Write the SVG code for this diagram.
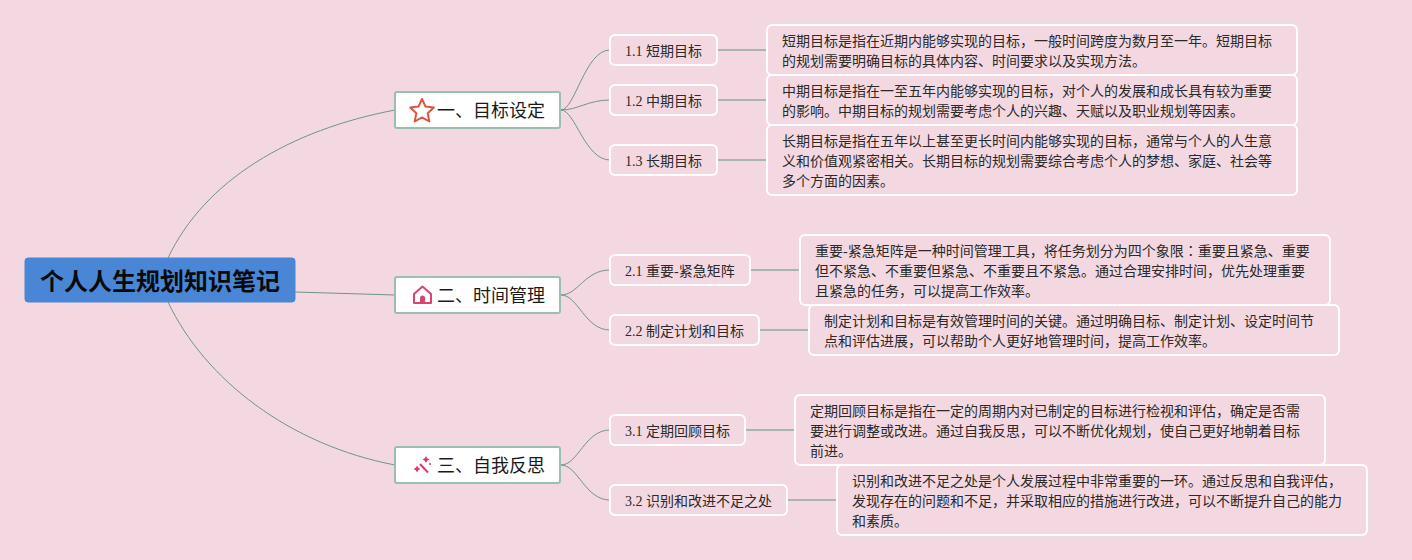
<svg xmlns="http://www.w3.org/2000/svg" width="1412" height="560" viewBox="0 0 1412 560">
<style>
text{font-family:"Liberation Serif","Noto Sans CJK SC",sans-serif;fill:#2a2a2a}
.r{fill:#4a86d6;stroke:#4a86d6;stroke-width:1}
.t{font-size:24px;font-weight:700;fill:#0a0a0a;font-family:"Noto Sans CJK SC",sans-serif}
.b{fill:#fff;stroke:#9dbcb2;stroke-width:2}
.bt{font-size:18px;fill:#1a1a1a}
.s{fill:#f3d8e1;stroke:#fff;stroke-width:2}
.st{font-size:14px}
.d{fill:#f3d8e1;stroke:#fff;stroke-width:2}
.dt{font-size:14px}
.c{fill:none;stroke:#6f9488;stroke-width:1}
.l{fill:none;stroke:#a9b5ae;stroke-width:2}
.tc{font-family:"Noto Sans CJK TC",sans-serif}
</style>
<rect width="1412" height="560" fill="#f3d8e1"/>
<g id="connectors">
<path class="c" d="M168 258C205 180 290 130 395 110"/>
<path class="c" d="M295 292L395 295"/>
<path class="c" d="M168 302C205 380 290 445 395 465"/>
<path class="c" d="M561 110C575 110 585 50 610 50"/>
<path class="c" d="M561 110C578 110 588 100 610 100"/>
<path class="c" d="M561 110C575 110 585 160 610 160"/>
<path class="c" d="M561 295C578 295 585 270 610 270"/>
<path class="c" d="M561 295C578 295 585 330 610 330"/>
<path class="c" d="M561 465C578 465 585 430 610 430"/>
<path class="c" d="M561 465C578 465 585 500 610 500"/>
<path class="l" d="M718 50H767M718 100H767M718 160H767M751 270H800M760 330H809M746 430H795M788 500H837"/>
</g>
<g id="root"><rect class="r" x="25" y="258" width="270" height="44" rx="3"/><text class="t" x="160" y="290" text-anchor="middle">个人人生规划知识笔记</text></g>
<g id="n1"><rect class="b" x="395" y="92" width="165" height="36" rx="2"/>
<path d="M422 99l3.500 7.600 8.300 1-6.100 5.700 1.600 8.200-7.300-4.100-7.300 4.100 1.600-8.200-6.100-5.700 8.300-1z" fill="none" stroke="#e0533f" stroke-width="2" stroke-linejoin="round"/>
<text class="bt" x="437" y="117">一、目标设定</text></g>
<g id="n2"><rect class="b" x="395" y="277" width="165" height="36" rx="2"/>
<path d="M414 294l8.500-7.500 8.500 7.500v9h-17z" fill="none" stroke="#d9466b" stroke-width="2" stroke-linejoin="round"/><path d="M420 303v-5a2.500 2.500 0 0 1 5 0v5z" fill="#d9466b"/>
<text class="bt" x="437" y="302">二、时间管理</text></g>
<g id="n3"><rect class="b" x="395" y="447" width="165" height="36" rx="2"/>
<path d="M420 464l8 8.500" stroke="#e0356f" stroke-width="2" fill="none"/><path d="M426 456l1.200 2.300 2.300 1.200-2.300 1.200-1.200 2.300-1.200-2.300-2.300-1.200 2.300-1.200zM417 465.500l1.200 2.300 2.300 1.200-2.300 1.200-1.200 2.300-1.200-2.300-2.300-1.200 2.300-1.200z" fill="#e0356f"/><circle cx="430" cy="464" r="1" fill="#e0356f"/>
<text class="bt" x="437" y="472">三、自我反思</text></g>
<g id="s11"><rect class="s" x="610" y="35" width="107" height="30" rx="5"/><text class="st" x="625" y="56">1.1 短期目标</text></g>
<g id="s12"><rect class="s" x="610" y="85" width="107" height="30" rx="5"/><text class="st" x="625" y="106">1.2 中期目标</text></g>
<g id="s13"><rect class="s" x="610" y="145" width="107" height="30" rx="5"/><text class="st" x="625" y="166">1.3 长期目标</text></g>
<g id="s21"><rect class="s" x="610" y="255" width="140" height="30" rx="5"/><text class="st" x="625" y="276">2.1 重要-紧急矩阵</text></g>
<g id="s22"><rect class="s" x="610" y="315" width="149" height="30" rx="5"/><text class="st" x="625" y="336">2.2 制定计划和目标</text></g>
<g id="s31"><rect class="s" x="610" y="415" width="135" height="30" rx="5"/><text class="st" x="625" y="436">3.1 定期回顾目标</text></g>
<g id="s32"><rect class="s" x="610" y="485" width="177" height="30" rx="5"/><text class="st" x="625" y="506">3.2 识别和改进不足之处</text></g>
<g id="d11"><rect class="d" x="767" y="25" width="530" height="50" rx="5"/><text class="dt" x="782" y="46">短期目标是指在近期内能够实现的目标，一般时间跨度为数月至一年。短期目标</text><text class="dt" x="782" y="66">的规划需要明确目标的具体内容、时间要求以及实现方法。</text></g>
<g id="d12"><rect class="d" x="767" y="75" width="530" height="50" rx="5"/><text class="dt" x="782" y="96">中期目标是指在一至五年内能够实现的目标，对个人的发展和成长具有较为重要</text><text class="dt" x="782" y="116">的影响。中期目标的规划需要考虑个人的兴趣、天赋以及职业规划等因素。</text></g>
<g id="d13"><rect class="d" x="767" y="125" width="530" height="70" rx="5"/><text class="dt" x="782" y="146">长期目标是指在五年以上甚至更长时间内能够实现的目标，通常与个人的人生意</text><text class="dt" x="782" y="166">义和价值观紧密相关。长期目标的规划需要综合考虑个人的梦想、家庭、社会等</text><text class="dt" x="782" y="186">多个方面的因素。</text></g>
<g id="d21"><rect class="d" x="800" y="235" width="530" height="70" rx="5"/><text class="dt" x="815" y="256">重要-紧急矩阵是一种时间管理工具，将任务划分为四个象限<tspan class="tc">：</tspan>重要且紧急、重要</text><text class="dt" x="815" y="276">但不紧急、不重要但紧急、不重要且不紧急。通过合理安排时间，优先处理重要</text><text class="dt" x="815" y="296">且紧急的任务，可以提高工作效率。</text></g>
<g id="d22"><rect class="d" x="809" y="305" width="530" height="50" rx="5"/><text class="dt" x="824" y="326">制定计划和目标是有效管理时间的关键。通过明确目标、制定计划、设定时间节</text><text class="dt" x="824" y="346">点和评估进展，可以帮助个人更好地管理时间，提高工作效率。</text></g>
<g id="d31"><rect class="d" x="795" y="395" width="530" height="70" rx="5"/><text class="dt" x="810" y="416">定期回顾目标是指在一定的周期内对已制定的目标进行检视和评估，确定是否需</text><text class="dt" x="810" y="436">要进行调整或改进。通过自我反思，可以不断优化规划，使自己更好地朝着目标</text><text class="dt" x="810" y="456">前进。</text></g>
<g id="d32"><rect class="d" x="837" y="465" width="530" height="70" rx="5"/><text class="dt" x="852" y="486">识别和改进不足之处是个人发展过程中非常重要的一环。通过反思和自我评估，</text><text class="dt" x="852" y="506">发现存在的问题和不足，并采取相应的措施进行改进，可以不断提升自己的能力</text><text class="dt" x="852" y="526">和素质。</text></g>
</svg>
